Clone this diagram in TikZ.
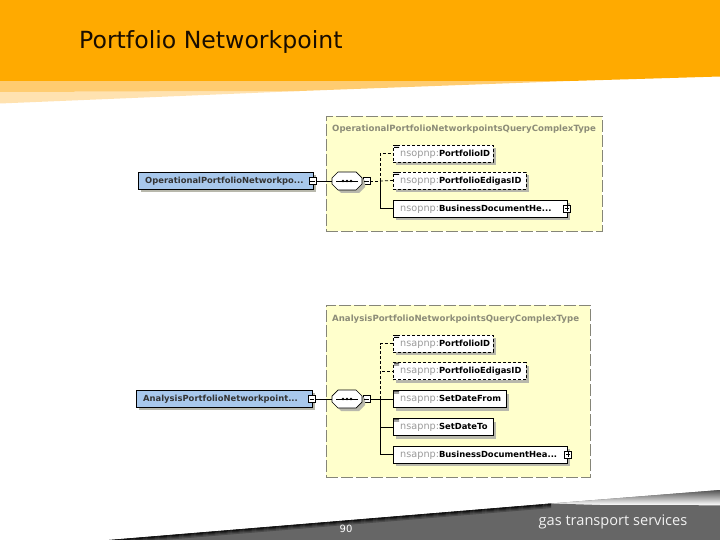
\documentclass[tikz,border=0pt]{standalone}
\usepackage{fontspec}
\setmainfont{DejaVu Sans}
\newfontfamily\footfont{Open Sans}
\usetikzlibrary{shadows,calc}
\definecolor{orangebar}{HTML}{FFAA00}
\definecolor{bandA}{HTML}{FFCC70}
\definecolor{bandB}{HTML}{FFE2B0}
\definecolor{footgrey}{HTML}{666666}
\definecolor{yellowbg}{HTML}{FFFFCC}
\definecolor{bluebg}{HTML}{A8C8EC}
\definecolor{frame}{HTML}{858578}
\definecolor{titlegrey}{HTML}{8C8C78}
\definecolor{nsgrey}{HTML}{9A9A9A}
\definecolor{shadowgrey}{HTML}{B8B8AC}
\tikzset{
  typebox/.style={draw=frame,fill=yellowbg,line width=.8pt,dash pattern=on 12pt off 3pt,anchor=north west,inner sep=0pt,outer sep=0pt},
  typetitle/.style={anchor=west,text=titlegrey,font=\fontsize{8.6}{10}\selectfont\bfseries,inner sep=0pt},
  shad/.style={drop shadow={shadow xshift=3pt,shadow yshift=-3pt,fill=shadowgrey,opacity=1}},
  elembox/.style={draw=black,fill=white,line width=.7pt,shad,anchor=north west,minimum height=17pt,inner sep=0pt,outer sep=0pt},
  optbox/.style={elembox,densely dashed},
  elemtext/.style={anchor=west,inner sep=0pt,yshift=-.8pt,font=\fontsize{8.4}{10}\selectfont},
  roottext/.style={anchor=west,inner sep=0pt,yshift=-.5pt,font=\fontsize{8.4}{10}\selectfont\bfseries,text=black!80},
  rootbox/.style={draw=black,fill=bluebg,line width=.7pt,shad,anchor=north west,minimum height=17pt,inner sep=0pt,outer sep=0pt},
  toggle/.style={draw=black,fill=white,line width=.6pt,minimum size=7pt,inner sep=0pt,outer sep=0pt},
  seqbox/.style={rectangle,minimum width=30pt,minimum height=18pt,inner sep=0pt,outer sep=0pt},
  wire/.style={line width=.7pt,black},
  dwire/.style={wire,densely dashed},
  note/.style={line width=.6pt,black},
}
\newcommand{\nsname}[2]{{\fontsize{9.7}{10}\selectfont\color{nsgrey}#1:}{\bfseries #2}}
\newcommand{\tagicon}[1]{\fill[black] ([xshift=1pt,yshift=-1pt]#1.north west) rectangle +(5pt,.8pt) ([xshift=1pt,yshift=-2.8pt]#1.north west) rectangle +(5pt,.8pt);}
\newcommand{\octapath}[1]{([xshift=6pt]#1.north west) -- ([xshift=-6pt]#1.north east) -- ([yshift=-6pt]#1.north east) -- ([yshift=6pt]#1.south east) -- ([xshift=-6pt]#1.south east) -- ([xshift=6pt]#1.south west) -- ([yshift=6pt]#1.south west) -- ([yshift=-6pt]#1.north west) -- cycle}
\newcommand{\seqshape}[1]{\fill[shadowgrey,transform canvas={xshift=3pt,yshift=-3pt}] \octapath{#1};
  \draw[wire,fill=white] \octapath{#1};
  \draw[wire] ([xshift=4pt]#1.west) -- ([xshift=-4pt]#1.east);
  \foreach \d in {-4,0,4}{\fill[black] ([xshift=\d pt]#1.center) circle (1.4pt);}}
\newcommand{\minusmark}[1]{\draw[note] ([xshift=1.3pt]#1.west) -- ([xshift=-1.3pt]#1.east);}
\newcommand{\plusmark}[1]{\minusmark{#1}\draw[note] ([yshift=-1.3pt]#1.north) -- ([yshift=1.3pt]#1.south);}
\begin{document}
\begin{tikzpicture}[x=1pt,y=-1pt]
\useasboundingbox (0,0) rectangle (720,540);
\fill[white] (0,0) rectangle (720,540);
% header
\fill[bandB] (0,92) -- (300,91) -- (0,103.5) -- cycle;
\fill[bandA] (0,81) -- (570,81) -- (300,91) -- (0,92) -- cycle;
\fill[orangebar] (0,0) -- (720,0) -- (720,76.5) -- (570,81) -- (0,81) -- cycle;
\node[anchor=west,inner sep=0pt,text=black!90!orange,font=\fontsize{23.6}{28}\selectfont] (title) at (79,41.5) {Portfolio Networkpoint};
% footer
\begin{scope}
\clip (109,540) -- (551,503.5) -- (720,490) -- (720,540) -- cycle;
\fill[footgrey] (100,480) rectangle (720,540);
\shade[top color=footgrey!70!black,bottom color=white] (540,489) rectangle (720,505);
\fill[footgrey] (540,507) -- (548,503.4) -- (600,505) -- (720,505.3) -- (720,540) -- (540,540) -- cycle;
\foreach \o/\m in {0/100,1/85,2/65,3/45,4/25}{
  \draw[line width=1.1pt,footgrey!\the\numexpr100-\m\relax!black] (100,540.7+\o) -- (551,503.5+\o);
}
\end{scope}
\node[inner sep=0pt,text=white,font=\fontsize{10}{12}\selectfont] (pg) at (346,529) {90};
\node[inner sep=0pt,text=white!90!gray,anchor=west,font=\footfont\fontsize{14.6}{17}\selectfont] (brand) at (538.5,522) {gas transport services};
% top diagram
\node[typebox,minimum width=276pt,minimum height=115pt] (boxA) at (326,116) {};
\node[typetitle] (titleA) at (332,129) {OperationalPortfolioNetworkpointsQueryComplexType};
\node[rootbox,minimum width=175pt] (rootA) at (138,172) {};
\node[roottext] (rootAt) at (145,181) {OperationalPortfolioNetworkpo...};
\node[toggle] (mA) at (312.5,181) {};
\node[seqbox] (seqA) at (347,181) {};
\node[toggle] (nA) at (366.5,181) {};
\coordinate (jA) at (380,181);
\draw[wire] (mA) -- (seqA);
\draw[wire] (seqA) -- (nA);
\node[optbox,minimum width=100pt] (a1) at (393,145) {};
\node[elemtext] (a1t) at (400,153.5) {\nsname{nsopnp}{PortfolioID}};
\node[optbox,minimum width=133pt] (a2) at (393,172) {};
\node[elemtext] (a2t) at (400,180.5) {\nsname{nsopnp}{PortfolioEdigasID}};
\node[elembox,minimum width=174pt] (a3) at (393,200) {};
\node[elemtext] (a3t) at (400,208.5) {\nsname{nsopnp}{BusinessDocumentHe...}};
\node[toggle] (pA) at (567,208.5) {};
\draw[dwire] (nA) -- (jA);
\draw[dwire] (jA) -- (a2.west);
\draw[dwire] (jA) |- (a1.west);
\draw[wire] (jA) |- (a3.west);
\seqshape{seqA}\minusmark{mA}\minusmark{nA}\plusmark{pA}
\tagicon{a1}\tagicon{a2}
% bottom diagram
\node[typebox,minimum width=264pt,minimum height=172pt] (boxB) at (326,305) {};
\node[typetitle] (titleB) at (332,319) {AnalysisPortfolioNetworkpointsQueryComplexType};
\node[rootbox,minimum width=176pt] (rootB) at (136,390) {};
\node[roottext] (rootBt) at (143,399) {AnalysisPortfolioNetworkpoint...};
\node[toggle] (mB) at (312,399) {};
\node[seqbox] (seqB) at (347,399) {};
\node[toggle] (nB) at (366.5,399) {};
\coordinate (jB) at (380,399);
\draw[wire] (mB) -- (seqB);
\draw[wire] (seqB) -- (nB);
\node[optbox,minimum width=100pt] (b1) at (393,335) {};
\node[elemtext] (b1t) at (400,343.5) {\nsname{nsapnp}{PortfolioID}};
\node[optbox,minimum width=133pt] (b2) at (393,362.5) {};
\node[elemtext] (b2t) at (400,371) {\nsname{nsapnp}{PortfolioEdigasID}};
\node[elembox,minimum width=113pt] (b3) at (393,390.5) {};
\node[elemtext] (b3t) at (400,399) {\nsname{nsapnp}{SetDateFrom}};
\node[elembox,minimum width=100pt] (b4) at (393,418.5) {};
\node[elemtext] (b4t) at (400,427) {\nsname{nsapnp}{SetDateTo}};
\node[elembox,minimum width=174pt] (b5) at (393,446) {};
\node[elemtext] (b5t) at (400,454.5) {\nsname{nsapnp}{BusinessDocumentHea...}};
\node[toggle] (pB) at (568,454.5) {};
\draw[wire] (nB) -- (b3.west);
\draw[dwire] (jB) |- (b1.west);
\draw[dwire] (jB) |- (b2.west);
\draw[wire] (jB) |- (b4.west);
\draw[wire] (jB) |- (b5.west);
\seqshape{seqB}\minusmark{mB}\minusmark{nB}\plusmark{pB}
\tagicon{b1}\tagicon{b2}\tagicon{b3}\tagicon{b4}
\end{tikzpicture}
\end{document}
